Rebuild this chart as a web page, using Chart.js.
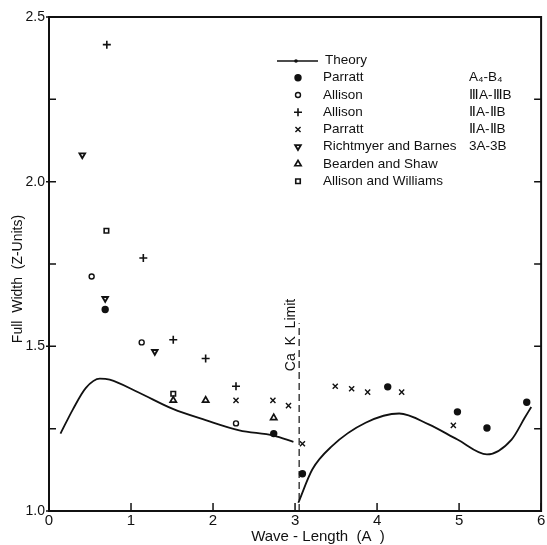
<!DOCTYPE html>
<html>
<head>
<meta charset="utf-8">
<style>
  html, body { margin: 0; padding: 0; background: #fff; }
  #wrap { width: 547px; height: 545px; }
</style>
</head>
<body>
<div id="wrap"><canvas id="chart-line-width"></canvas></div>
<script src="https://cdn.jsdelivr.net/npm/chart.js@4.4.1/dist/chart.umd.min.js"></script>
<script>
// theory curve, two branches either side of the Ca K edge
const theoryLeftX = [0.14, 0.29, 0.45, 0.62, 0.74, 1.10, 1.51, 1.91, 2.32, 2.74, 2.98];
const theoryLeftY = [1.235, 1.308, 1.374, 1.402, 1.399, 1.359, 1.31, 1.276, 1.245, 1.229, 1.21];
const theoryRightX = [3.04, 3.21, 3.45, 3.86, 4.27, 4.63, 4.98, 5.34, 5.64, 5.80, 5.88];
const theoryRightY = [1.025, 1.126, 1.197, 1.268, 1.296, 1.263, 1.217, 1.172, 1.217, 1.283, 1.316];

// measurements
const parrattA4X = [0.685, 2.74, 3.09, 4.13, 4.98, 5.34, 5.825];
const parrattA4Y = [1.612, 1.235, 1.113, 1.377, 1.301, 1.252, 1.33];
const allisonIIIX = [0.52, 1.13, 2.28];
const allisonIIIY = [1.712, 1.512, 1.266];
const allisonIIX = [0.705, 1.15, 1.515, 1.91, 2.28];
const allisonIIY = [2.416, 1.768, 1.52, 1.463, 1.379];
const parrattIIX = [2.28, 2.73, 2.92, 3.09, 3.49, 3.69, 3.885, 4.30, 4.93];
const parrattIIY = [1.336, 1.336, 1.32, 1.204, 1.379, 1.371, 1.361, 1.361, 1.26];
const richtmyerX = [0.406, 0.685, 1.29];
const richtmyerY = [2.081, 1.645, 1.484];
const beardenX = [1.515, 1.91, 2.74];
const beardenY = [1.336, 1.336, 1.283];
const allisonWilliamsX = [0.70, 1.515];
const allisonWilliamsY = [1.851, 1.356];

// Ca K absorption limit
const caLimitX = [3.05, 3.05];
const caLimitY = [1.0, 1.57];

// axes
const X_MIN = 0, X_MAX = 6, X_STEP = 1;
const Y_MIN = 1.0, Y_MAX = 2.5, Y_STEP = 0.25;

// legend text
const legendNames = ["Parratt", "Allison", "Allison", "Parratt", "Richtmyer and Barnes", "Bearden and Shaw", "Allison and Williams"];
const legendLines = ["A\u2084-B\u2084", "\u2162A-\u2162B", "\u2161A-\u2161B", "\u2161A-\u2161B", "3A-3B", "", ""];

const INK = "#111";
const FONT = "'Liberation Sans', Arial, sans-serif";

const pts = (xs, ys) => xs.map((x, i) => ({ x, y: ys[i] }));

const markerSet = (label, xs, ys, style, extra) => ({
	type: "scatter",
	label,
	data: pts(xs, ys),
	pointStyle: style,
	pointRadius: 3,
	pointBorderWidth: 1.6,
	pointBorderColor: INK,
	pointBackgroundColor: "rgba(0,0,0,0)",
	...extra,
});

const MARKERS = [
	markerSet("Parratt A4-B4", parrattA4X, parrattA4Y, "circle", { pointRadius: 2.9, pointBackgroundColor: INK }),
	markerSet("Allison IIIA-IIIB", allisonIIIX, allisonIIIY, "circle", { pointRadius: 2.5, pointBorderWidth: 1.4 }),
	markerSet("Allison IIA-IIB", allisonIIX, allisonIIY, "cross", { pointRadius: 4, pointBorderWidth: 1.6 }),
	markerSet("Parratt IIA-IIB", parrattIIX, parrattIIY, "crossRot", { pointRadius: 3.6, pointBorderWidth: 1.4 }),
	markerSet("Richtmyer and Barnes 3A-3B", richtmyerX, richtmyerY, "triangle", { pointRotation: 180, pointRadius: 3.2, pointBorderWidth: 1.9 }),
	markerSet("Bearden and Shaw", beardenX, beardenY, "triangle", { pointRadius: 3.6, pointBorderWidth: 1.7 }),
	markerSet("Allison and Williams", allisonWilliamsX, allisonWilliamsY, "rect", { pointRadius: 3.2, pointBorderWidth: 1.6 }),
];

const theoryLine = (label, xs, ys) => ({
	type: "line",
	label,
	data: pts(xs, ys),
	borderColor: INK,
	borderWidth: 1.8,
	pointRadius: 0,
	cubicInterpolationMode: "monotone",
	fill: false,
});

// ticks inside the frame, the frame itself, legend and free text
const paperPlugin = {
	id: "paperDecor",
	afterDraw(chart) {
		const { ctx, chartArea: a, scales } = chart;
		ctx.save();
		ctx.strokeStyle = INK;
		ctx.fillStyle = INK;

		// frame
		ctx.lineWidth = 2;
		ctx.strokeRect(a.left, a.top, a.right - a.left, a.bottom - a.top);

		// y ticks, both sides
		ctx.lineWidth = 1.5;
		scales.y.ticks.forEach((t) => {
			const py = scales.y.getPixelForValue(t.value);
			const major = Math.abs(t.value * 2 - Math.round(t.value * 2)) < 1e-6;
			ctx.beginPath();
			ctx.moveTo(a.left - (major ? 3 : 0), py);
			ctx.lineTo(a.left + 7, py);
			ctx.moveTo(a.right, py);
			ctx.lineTo(a.right - 7, py);
			ctx.stroke();
		});
		// x ticks, bottom
		scales.x.ticks.forEach((t) => {
			const px = scales.x.getPixelForValue(t.value);
			ctx.beginPath();
			ctx.moveTo(px, a.bottom);
			ctx.lineTo(px, a.bottom - 8);
			ctx.stroke();
		});

		// axis titles
		ctx.textBaseline = "middle";
		ctx.textAlign = "center";
		ctx.font = "15px " + FONT;
		ctx.fillText("Wave - Length  (A  )", a.left + 269, 537);
		ctx.save();
		ctx.translate(18, a.top + 262);
		ctx.rotate(-Math.PI / 2);
		ctx.font = "14px " + FONT;
		ctx.fillText("Full  Width  (Z-Units)", 0, 0);
		ctx.restore();

		// Ca K limit label
		ctx.save();
		ctx.translate(scales.x.getPixelForValue(caLimitX[0]) - 8, a.top + 318);
		ctx.rotate(-Math.PI / 2);
		ctx.font = "14px " + FONT;
		ctx.fillText("Ca  K  Limit", 0, 0);
		ctx.restore();

		// legend
		const symX = 298, textX = 323, lineX = 469;
		ctx.textAlign = "left";
		ctx.font = "13.5px " + FONT;
		ctx.lineWidth = 1.5;
		ctx.beginPath();
		ctx.moveTo(277, 61);
		ctx.lineTo(318, 61);
		ctx.stroke();
		ctx.beginPath();
		ctx.arc(296, 61, 1.8, 0, Math.PI * 2);
		ctx.fill();
		ctx.fillText("Theory", 325, 60);

		MARKERS.forEach((ds, i) => {
			const y = 77.7 + i * 17.25;
			ctx.fillStyle = ds.pointBackgroundColor;
			ctx.strokeStyle = INK;
			ctx.lineWidth = ds.pointBorderWidth;
			Chart.helpers.drawPoint(ctx, {
				pointStyle: ds.pointStyle,
				radius: ds.pointRadius,
				rotation: ds.pointRotation || 0,
				borderWidth: ds.pointBorderWidth,
			}, symX, y);
			ctx.fillStyle = INK;
			ctx.fillText(legendNames[i], textX, y);
			if (legendLines[i]) ctx.fillText(legendLines[i], lineX, y);
		});
		ctx.restore();
	},
};

const CHART_DATA = {
	datasets: [
		theoryLine("Theory", theoryLeftX, theoryLeftY),
		theoryLine("Theory (long side)", theoryRightX, theoryRightY),
		{
			type: "line",
			label: "Ca K Limit",
			data: pts(caLimitX, caLimitY),
			borderColor: INK,
			borderWidth: 1.2,
			borderDash: [7, 4],
			pointRadius: 0,
		},
		...MARKERS,
	],
};

const CHART_CONFIG = {
	type: "scatter",
	data: CHART_DATA,
	plugins: [paperPlugin],
	options: {
		responsive: true,
		maintainAspectRatio: false,
		animation: false,
		layout: {
			padding: { left: 7, right: 2, top: 17, bottom: 14 },
		},
		plugins: {
			legend: { display: false },
			title: { display: false },
			tooltip: { enabled: false },
		},
		scales: {
			x: {
				type: "linear",
				min: X_MIN,
				max: X_MAX,
				border: { display: false },
				grid: { display: false, drawTicks: false },
				ticks: {
					stepSize: X_STEP,
					padding: 1,
					color: INK,
					font: { family: FONT, size: 15 },
				},
				afterFit: (s) => { s.height = 20; },
			},
			y: {
				min: Y_MIN,
				max: Y_MAX,
				border: { display: false },
				grid: { display: false, drawTicks: false },
				ticks: {
					stepSize: Y_STEP,
					padding: 4,
					color: INK,
					font: { family: FONT, size: 14 },
					callback: (v) => (Math.abs(v * 2 - Math.round(v * 2)) < 1e-6 ? v.toFixed(1) : ""),
				},
				afterFit: (s) => { s.width = 42; },
			},
		},
	},
};

const CHART_WRAPPER = document.getElementById("chart-line-width");
if (CHART_WRAPPER) {
	new Chart(CHART_WRAPPER, CHART_CONFIG);
}
</script>
</body>
</html>
